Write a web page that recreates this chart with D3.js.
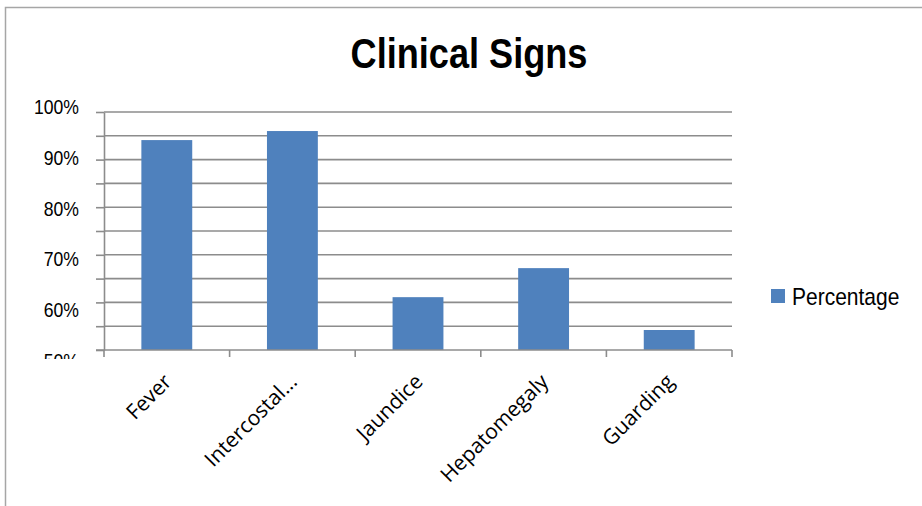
<!DOCTYPE html>
<html>
<head>
<meta charset="utf-8">
<script src="https://cdn.jsdelivr.net/npm/d3@7/dist/d3.min.js"></script>
<style>
  html, body { margin: 0; padding: 0; background: #fff; }
  svg { display: block; }
</style>
</head>
<body>
<svg id="chart" width="922" height="506"></svg>
<script>
// Clinical signs — share of patients showing each sign
const categories = ["Fever", "Intercostal...", "Jaundice", "Hepatomegaly", "Guarding"];
const percentages = [94.1, 96.0, 61.1, 67.2, 54.2];
const yTickValues = [50, 55, 60, 65, 70, 75, 80, 85, 90, 95, 100];
const yLabelValues = [50, 60, 70, 80, 90, 100];
const seriesName = "Percentage";
const chartTitle = "Clinical Signs";

const svg = d3.select("#chart");
const plot = { left: 104, right: 732, top: 112, bottom: 350 };
const barColor = "#4F81BD";
const gridColor = "#8C8C8C";
const sans = "'Liberation Sans', Arial, sans-serif";

// chart-area frame
svg.append("rect")
  .attr("x", 5.5).attr("y", 7.5)
  .attr("width", 1200).attr("height", 1200)
  .attr("fill", "#fff").attr("stroke", "#A6A6A6").attr("stroke-width", 1.5);

const x = d3.scaleBand().domain(categories).range([plot.left, plot.right]).paddingInner(0).paddingOuter(0);
const y = d3.scaleLinear().domain([50, 100]).range([plot.bottom, plot.top]);
// tick labels sit on a slightly looser spacing than the gridlines
const yLabel = d3.scaleLinear().domain([50, 100]).range([360.5, 106.5]);

// horizontal gridlines
svg.append("g").selectAll("line").data(yTickValues.filter(v => v > 50)).join("line")
  .attr("x1", plot.left).attr("x2", plot.right)
  .attr("y1", d => y(d)).attr("y2", d => y(d))
  .attr("stroke", gridColor).attr("stroke-width", 1.6);

// y axis with short outside ticks on every gridline
const yAxis = svg.append("g").attr("transform", `translate(${plot.left},0)`)
  .call(d3.axisLeft(y).tickValues(yTickValues).tickSize(8).tickSizeOuter(0).tickFormat(""));
yAxis.selectAll("path, line").attr("stroke", gridColor).attr("stroke-width", 1.6);

// y labels in a condensed face, clipped at the bottom edge
svg.append("clipPath").attr("id", "ylab-clip")
  .append("rect").attr("x", 0).attr("y", 0).attr("width", 100).attr("height", 359);
svg.append("g").attr("clip-path", "url(#ylab-clip)")
  .selectAll("text").data(yLabelValues).join("text")
  .attr("transform", d => `translate(79,${yLabel(d)}) scale(0.84,1)`)
  .attr("dy", "0.36em")
  .attr("text-anchor", "end")
  .attr("font-family", sans).attr("font-size", 21).attr("fill", "#000")
  .text(d => d + "%");

// bars
const barW = x.bandwidth() * 0.405;
svg.append("g").selectAll("rect").data(percentages).join("rect")
  .attr("x", (d, i) => x(categories[i]) + (x.bandwidth() - barW) / 2)
  .attr("y", d => y(d))
  .attr("width", barW)
  .attr("height", d => y(50) - y(d))
  .attr("fill", barColor);

// x axis with category boundary ticks
const xAxisG = svg.append("g").attr("transform", `translate(0,${plot.bottom})`);
xAxisG.append("line")
  .attr("x1", plot.left - 8).attr("x2", plot.right)
  .attr("y1", 0).attr("y2", 0)
  .attr("stroke", gridColor).attr("stroke-width", 1.6);
const bounds = categories.map(c => x(c)).concat([plot.right]);
xAxisG.selectAll("line.tick").data(bounds).join("line")
  .attr("class", "tick")
  .attr("x1", d => d).attr("x2", d => d)
  .attr("y1", 0).attr("y2", 7)
  .attr("stroke", gridColor).attr("stroke-width", 1.6);

// rotated category labels
svg.append("g").selectAll("text").data(categories).join("text")
  .attr("transform", d => `translate(${x(d) + x.bandwidth() / 2 + 6},${plot.bottom + 33}) rotate(-45)`)
  .attr("text-anchor", "end")
  .attr("font-family", "'Open Sans', 'Noto Sans', sans-serif")
  .attr("font-size", 21).attr("fill", "#000")
  .text(d => d);

// title, condensed bold
svg.append("text")
  .attr("transform", "translate(469,68) scale(0.86,1)")
  .attr("text-anchor", "middle")
  .attr("font-family", sans).attr("font-weight", "bold")
  .attr("font-size", 42).attr("fill", "#000")
  .text(chartTitle);

// legend
const legend = svg.append("g");
legend.append("rect").attr("x", 771).attr("y", 289).attr("width", 14).attr("height", 14).attr("fill", barColor);
legend.append("text")
  .attr("transform", "translate(792,305) scale(0.875,1)")
  .attr("font-family", sans).attr("font-size", 24).attr("fill", "#000")
  .text(seriesName);
</script>
</body>
</html>
